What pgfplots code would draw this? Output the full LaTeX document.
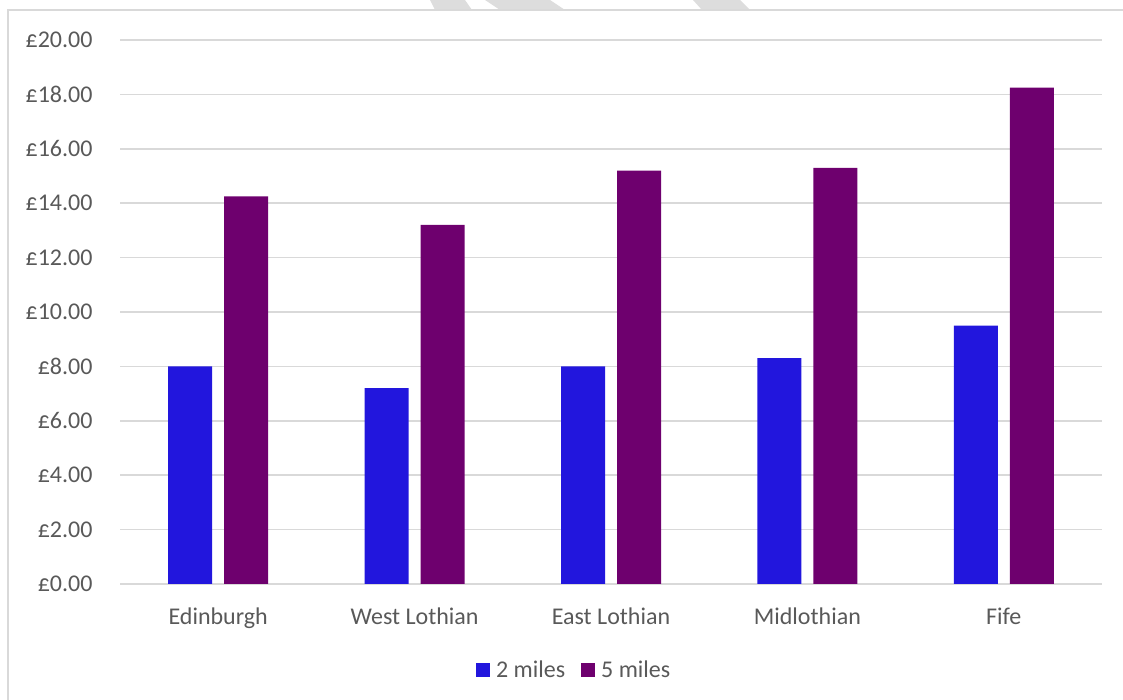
\documentclass[border=0pt]{standalone}
\usepackage{fontspec}
\setmainfont{Carlito}
\usepackage{pgfplots}
\pgfplotsset{compat=1.18}
\definecolor{barblue}{HTML}{2216DD}
\definecolor{barpurple}{HTML}{6E006E}
\definecolor{txt}{HTML}{595959}
\definecolor{gridc}{HTML}{D9D9D9}
\definecolor{wm}{HTML}{DDDDDD}
\begin{document}
\begin{tikzpicture}
\path[use as bounding box] (0pt,0pt) rectangle (1123pt,700pt);
% watermark fragments and frame
\fill[wm] (430pt,700pt) -- (465pt,700pt) -- (472pt,690pt) -- (435pt,690pt) -- cycle;
\fill[wm] (485pt,700pt) -- (550pt,700pt) -- (565pt,690pt) -- (500pt,690pt) -- cycle;
\fill[wm] (693pt,700pt) -- (740pt,700pt) -- (750pt,690pt) -- (702pt,690pt) -- cycle;
\draw[gridc, line width=1.5pt] (8pt,0pt) -- (8pt,690pt) -- (1123pt,690pt);
\begin{axis}[
  at={(120pt,116pt)}, anchor=south west,
  scale only axis, width=982pt, height=544pt,
  xmin=-0.5, xmax=4.5, ymin=0, ymax=20,
  ytick={0,2,...,20},
  xtick={0,1,2,3,4},
  xticklabels={Edinburgh, West Lothian, East Lothian, Midlothian, Fife},
  ybar=12pt, bar width=44pt,
  axis line style={draw=none},
  ymajorgrids, grid style={gridc, line width=1.5pt},
  major tick length=0pt,
  /pgf/number format/assume math mode=true,
  yticklabel={£\pgfmathprintnumber[fixed,fixed zerofill,precision=2]{\tick}},
  tick label style={font=\fontsize{24}{29}\selectfont, text=txt},
  yticklabel style={xshift=-24pt},
  xticklabel style={yshift=-20pt},
  legend columns=2,
  legend style={at={(axis description cs:0.4625,0)}, anchor=center, yshift=-86pt,
    draw=none, fill=none, font=\fontsize{24}{29}\selectfont, text=txt,
    /tikz/every even column/.append style={column sep=14pt}},
  legend image code/.code={\fill[#1] (0pt,-7pt) rectangle (14pt,7pt); \path (18pt,0pt);},
]
\addplot[fill=barblue, draw=none] coordinates {(0,8.00) (1,7.20) (2,8.00) (3,8.30) (4,9.50)};
\addplot[fill=barpurple, draw=none] coordinates {(0,14.25) (1,13.20) (2,15.20) (3,15.30) (4,18.25)};
\legend{2 miles, 5 miles}
\end{axis}
\end{tikzpicture}
\end{document}
